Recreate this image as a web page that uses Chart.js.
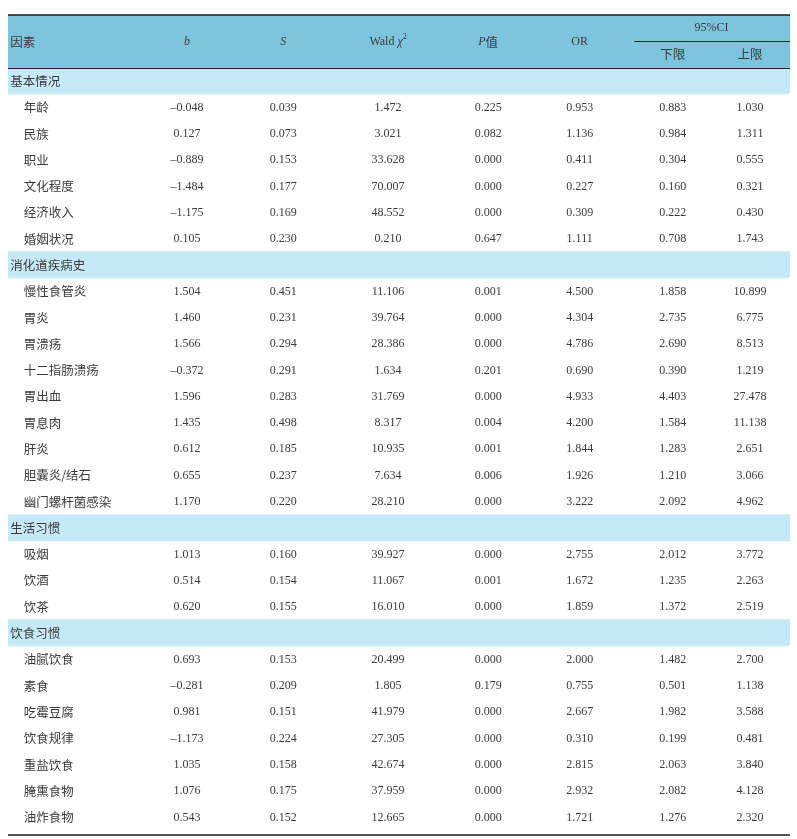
<!DOCTYPE html>
<html>
<head>
<meta charset="utf-8">
<script src="https://cdn.jsdelivr.net/npm/chart.js@4.4.0/dist/chart.umd.min.js"></script>
<style>
html, body { margin: 0; padding: 0; background: #fff; }
</style>
</head>
<body>
<canvas id="tableChart" width="797" height="839"></canvas>
<script>
var sectionNames = ['基本情况', '消化道疾病史', '生活习惯', '饮食习惯'];
var sectionSizes = [6, 9, 3, 7];
var factorNames = [
    '年龄', '民族', '职业', '文化程度', '经济收入', '婚姻状况',
    '慢性食管炎', '胃炎', '胃溃疡', '十二指肠溃疡', '胃出血', '胃息肉', '肝炎', '胆囊炎/结石', '幽门螺杆菌感染',
    '吸烟', '饮酒', '饮茶',
    '油腻饮食', '素食', '吃霉豆腐', '饮食规律', '重盐饮食', '腌熏食物', '油炸食物'
];
var coefB = [-0.048, 0.127, -0.889, -1.484, -1.175, 0.105,
    1.504, 1.460, 1.566, -0.372, 1.596, 1.435, 0.612, 0.655, 1.170,
    1.013, 0.514, 0.620,
    0.693, -0.281, 0.981, -1.173, 1.035, 1.076, 0.543];
var stdErr = [0.039, 0.073, 0.153, 0.177, 0.169, 0.230,
    0.451, 0.231, 0.294, 0.291, 0.283, 0.498, 0.185, 0.237, 0.220,
    0.160, 0.154, 0.155,
    0.153, 0.209, 0.151, 0.224, 0.158, 0.175, 0.152];
var waldChi2 = [1.472, 3.021, 33.628, 70.007, 48.552, 0.210,
    11.106, 39.764, 28.386, 1.634, 31.769, 8.317, 10.935, 7.634, 28.210,
    39.927, 11.067, 16.010,
    20.499, 1.805, 41.979, 27.305, 42.674, 37.959, 12.665];
var pValues = [0.225, 0.082, 0.000, 0.000, 0.000, 0.647,
    0.001, 0.000, 0.000, 0.201, 0.000, 0.004, 0.001, 0.006, 0.000,
    0.000, 0.001, 0.000,
    0.000, 0.179, 0.000, 0.000, 0.000, 0.000, 0.000];
var oddsRatio = [0.953, 1.136, 0.411, 0.227, 0.309, 1.111,
    4.500, 4.304, 4.786, 0.690, 4.933, 4.200, 1.844, 1.926, 3.222,
    2.755, 1.672, 1.859,
    2.000, 0.755, 2.667, 0.310, 2.815, 2.932, 1.721];
var ciLower = [0.883, 0.984, 0.304, 0.160, 0.222, 0.708,
    1.858, 2.735, 2.690, 0.390, 4.403, 1.584, 1.283, 1.210, 2.092,
    2.012, 1.235, 1.372,
    1.482, 0.501, 1.982, 0.199, 2.063, 2.082, 1.276];
var ciUpper = [1.030, 1.311, 0.555, 0.321, 0.430, 1.743,
    10.899, 6.775, 8.513, 1.219, 27.478, 11.138, 2.651, 3.066, 4.962,
    3.772, 2.263, 2.519,
    2.700, 1.138, 3.588, 0.481, 3.840, 4.128, 2.320];

// table layout: two header rows, then one band row per section followed by its factors
var rows = [{ type: 'head' }, { type: 'head' }];
var k = 0;
sectionNames.forEach(function (name, s) {
    rows.push({ type: 'section', label: name });
    for (var i = 0; i < sectionSizes[s]; i++, k++) {
        rows.push({ type: 'item', index: k });
    }
});
var rowIds = rows.map(function (r, i) { return 'r' + i; });
var headBand = rows.map(function (r) { return r.type === 'head' ? [0, 1] : null; });
var sectionBand = rows.map(function (r) { return r.type === 'section' ? [0, 1] : null; });

var columns = [coefB, stdErr, waldChi2, pValues, oddsRatio, ciLower, ciUpper];
var colX = [0.229, 0.352, 0.486, 0.614, 0.731, 0.850, 0.949];
var numFont = '12px "Liberation Serif", "Times New Roman", serif';
var cjkFont = '12.5px "Noto Sans CJK SC", sans-serif';
var textColor = '#3a3a3a';

function fmt(v) {
    var s = Math.abs(v).toFixed(3);
    return v < 0 ? '\u2013' + s : s;
}

var tablePlugin = {
    id: 'tableText',
    afterDatasetsDraw: function (chart) {
        var ctx = chart.ctx;
        var xs = chart.scales.x;
        var ys = chart.scales.y;
        var area = chart.chartArea;
        ctx.save();
        ctx.fillStyle = textColor;
        ctx.textBaseline = 'middle';

        // rules
        ctx.strokeStyle = '#1e1e1e';
        ctx.lineWidth = 1.5;
        ctx.beginPath();
        ctx.moveTo(area.left, area.top);
        ctx.lineTo(area.right, area.top);
        ctx.moveTo(area.left, area.bottom + 5);
        ctx.lineTo(area.right, area.bottom + 5);
        ctx.stroke();
        ctx.lineWidth = 1;
        ctx.beginPath();
        var yHeadEnd = Math.round(ys.getPixelForValue(1.5)) + 0.5;
        ctx.moveTo(area.left, yHeadEnd);
        ctx.lineTo(area.right, yHeadEnd);
        var yCi = Math.round(ys.getPixelForValue(0.5)) + 0.5;
        ctx.moveTo(xs.getPixelForValue(0.801), yCi);
        ctx.lineTo(area.right, yCi);
        ctx.stroke();

        // header
        var yMid = ys.getPixelForValue(0.5) + 1;
        var yTop = ys.getPixelForValue(0);
        var yBot = ys.getPixelForValue(1);
        ctx.textAlign = 'left';
        ctx.font = cjkFont;
        ctx.fillText('因素', xs.getPixelForValue(0.003), yMid);
        ctx.textAlign = 'center';
        ctx.font = 'italic ' + numFont;
        ctx.fillText('b', xs.getPixelForValue(colX[0]), yMid);
        ctx.fillText('S', xs.getPixelForValue(colX[1]), yMid);
        ctx.font = numFont;
        ctx.fillText('OR', xs.getPixelForValue(colX[4]), yMid);
        ctx.fillText('95%CI', xs.getPixelForValue((colX[5] + colX[6]) / 2), yTop);
        ctx.font = cjkFont;
        ctx.fillText('下限', xs.getPixelForValue(colX[5]), yBot);
        ctx.fillText('上限', xs.getPixelForValue(colX[6]), yBot);

        // Wald χ2 with superscript
        ctx.textAlign = 'left';
        ctx.font = numFont;
        var w1 = ctx.measureText('Wald ').width;
        ctx.font = 'italic ' + numFont;
        var w2 = ctx.measureText('χ').width;
        ctx.font = '8px "Liberation Serif", serif';
        var w3 = ctx.measureText('2').width;
        var sx = xs.getPixelForValue(colX[2]) - (w1 + w2 + w3) / 2;
        ctx.font = numFont;
        ctx.fillText('Wald ', sx, yMid);
        ctx.font = 'italic ' + numFont;
        ctx.fillText('χ', sx + w1, yMid);
        ctx.font = '8px "Liberation Serif", serif';
        ctx.fillText('2', sx + w1 + w2, yMid - 5);

        // P值
        ctx.font = 'italic ' + numFont;
        var p1 = ctx.measureText('P').width;
        ctx.font = cjkFont;
        var p2 = ctx.measureText('值').width;
        var px = xs.getPixelForValue(colX[3]) - (p1 + p2) / 2;
        ctx.font = 'italic ' + numFont;
        ctx.fillText('P', px, yMid);
        ctx.font = cjkFont;
        ctx.fillText('值', px + p1, yMid);

        // body
        rows.forEach(function (r, i) {
            var y = ys.getPixelForValue(i) + 0.5;
            if (r.type === 'section') {
                ctx.textAlign = 'left';
                ctx.font = cjkFont;
                ctx.fillText(r.label, xs.getPixelForValue(0.003), y);
            } else if (r.type === 'item') {
                ctx.textAlign = 'left';
                ctx.font = cjkFont;
                ctx.fillText(factorNames[r.index], xs.getPixelForValue(0.02), y);
                ctx.textAlign = 'center';
                ctx.font = numFont;
                columns.forEach(function (col, c) {
                    ctx.fillText(fmt(col[r.index]), xs.getPixelForValue(colX[c]), y);
                });
            }
        });
        ctx.restore();
    }
};

var ctx = document.getElementById('tableChart').getContext('2d');
var tableChart = new Chart(ctx, {
    type: 'bar',
    data: {
        labels: rowIds,
        datasets: [{
            label: 'header',
            data: headBand,
            backgroundColor: '#7dc5de',
            borderWidth: 0,
            grouped: false,
            barPercentage: 1,
            categoryPercentage: 1
        }, {
            label: 'section',
            data: sectionBand,
            backgroundColor: '#c6e9f8',
            borderWidth: 0,
            grouped: false,
            barPercentage: 1,
            categoryPercentage: 1
        }]
    },
    options: {
        responsive: false,
        animation: false,
        indexAxis: 'y',
        layout: { padding: { left: 8, right: 7, top: 15, bottom: 9 } },
        plugins: {
            legend: { display: false },
            tooltip: { enabled: false }
        },
        scales: {
            x: { type: 'linear', min: 0, max: 1, display: false },
            y: { type: 'category', display: false, offset: true }
        }
    },
    plugins: [tablePlugin]
});
</script>
</body>
</html>
